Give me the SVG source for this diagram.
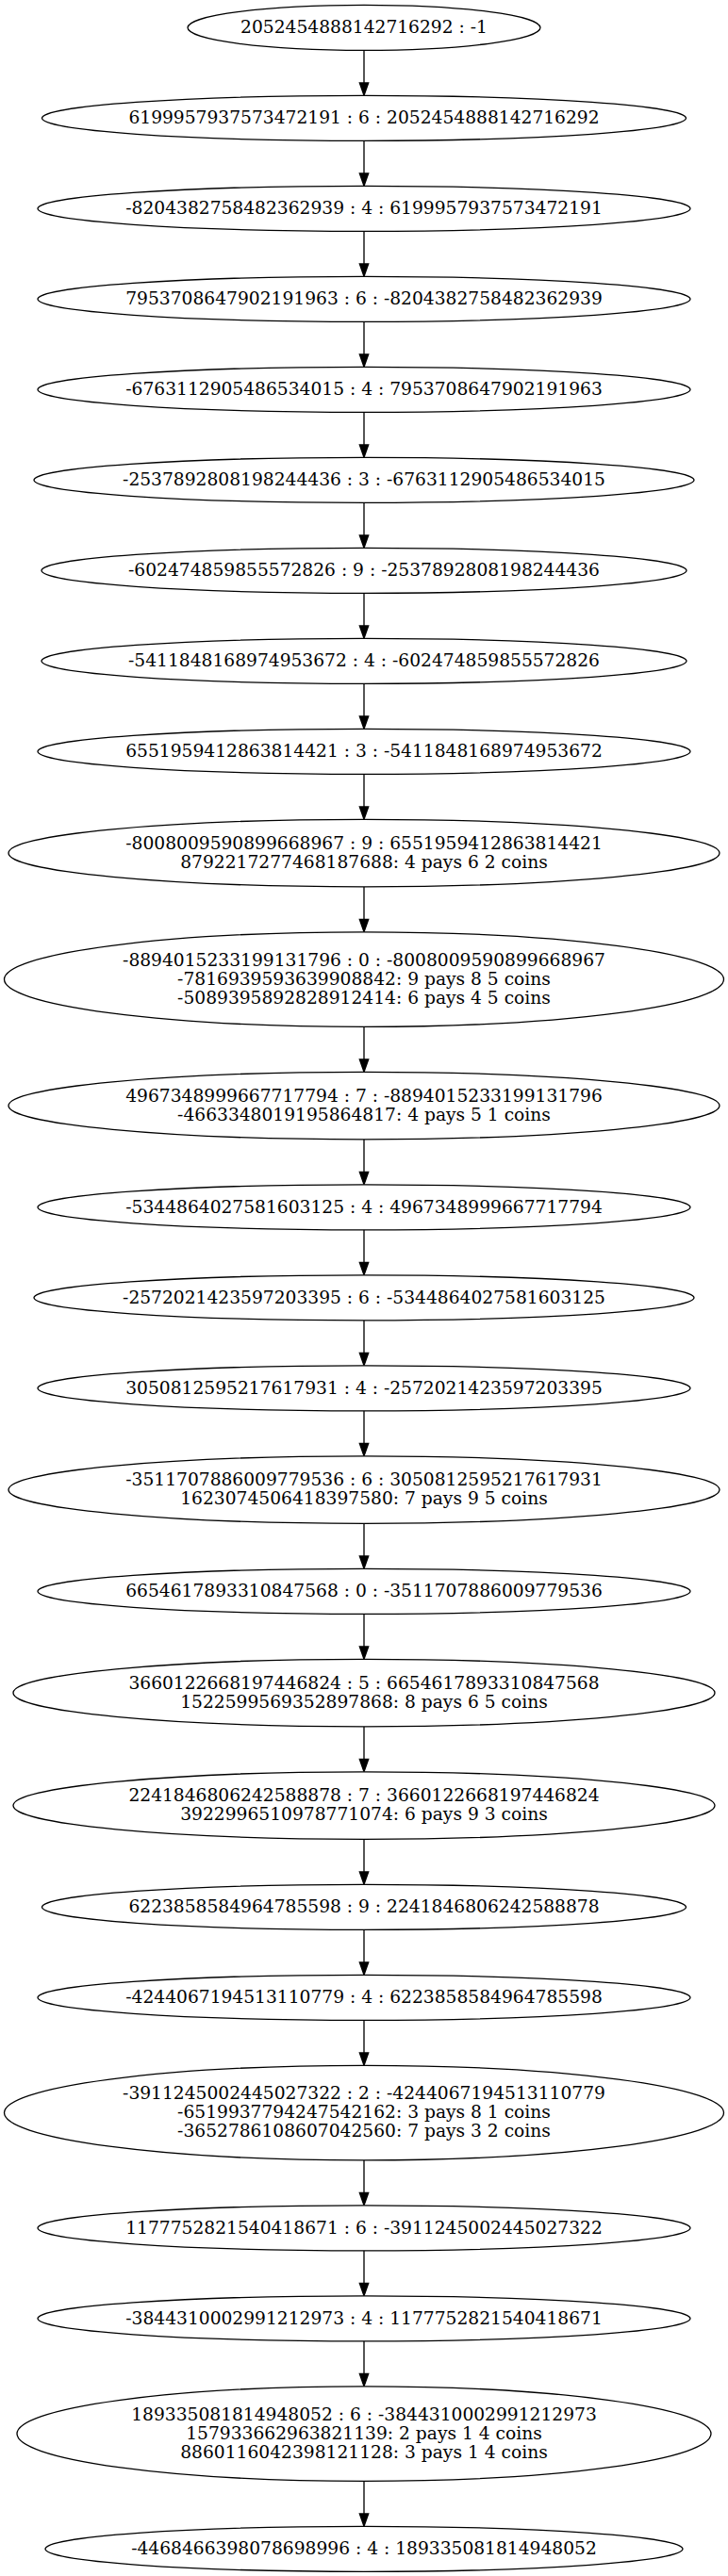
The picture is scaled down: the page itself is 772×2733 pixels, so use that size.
<svg xmlns="http://www.w3.org/2000/svg" width="772" height="2733" viewBox="0 0 772 2733">
<style>
ellipse{fill:#fff;stroke:#000;stroke-width:1.33}
text{font-family:"DejaVu Serif","Liberation Serif",serif;font-size:18.67px;text-anchor:middle;fill:#000}
.e line{stroke:#000;stroke-width:1.33}
</style>
<defs>
<marker id="ah" markerUnits="userSpaceOnUse" markerWidth="16" markerHeight="12" refX="0" refY="4.67" orient="auto" overflow="visible"><path d="M0,0 L13.33,4.67 L0,9.33 z" fill="#000" stroke="#000" stroke-width="1.33"/></marker>
</defs>
<rect x="0" y="0" width="772" height="2733" fill="#fff"/>
<g class="e" id="edges">
<line x1="386" y1="53.33" x2="386" y2="88" marker-end="url(#ah)"/>
<line x1="386" y1="149.33" x2="386" y2="184" marker-end="url(#ah)"/>
<line x1="386" y1="245.33" x2="386" y2="280" marker-end="url(#ah)"/>
<line x1="386" y1="341.33" x2="386" y2="376" marker-end="url(#ah)"/>
<line x1="386" y1="437.33" x2="386" y2="472" marker-end="url(#ah)"/>
<line x1="386" y1="533.33" x2="386" y2="568" marker-end="url(#ah)"/>
<line x1="386" y1="629.33" x2="386" y2="664" marker-end="url(#ah)"/>
<line x1="386" y1="725.33" x2="386" y2="760" marker-end="url(#ah)"/>
<line x1="386" y1="821.33" x2="386" y2="856" marker-end="url(#ah)"/>
<line x1="386" y1="940.83" x2="386" y2="975.5" marker-end="url(#ah)"/>
<line x1="386" y1="1089.33" x2="386" y2="1124" marker-end="url(#ah)"/>
<line x1="386" y1="1208.83" x2="386" y2="1243.5" marker-end="url(#ah)"/>
<line x1="386" y1="1304.83" x2="386" y2="1339.5" marker-end="url(#ah)"/>
<line x1="386" y1="1400.83" x2="386" y2="1435.5" marker-end="url(#ah)"/>
<line x1="386" y1="1496.83" x2="386" y2="1531.5" marker-end="url(#ah)"/>
<line x1="386" y1="1616.33" x2="386" y2="1651" marker-end="url(#ah)"/>
<line x1="386" y1="1712.33" x2="386" y2="1747" marker-end="url(#ah)"/>
<line x1="386" y1="1831.83" x2="386" y2="1866.5" marker-end="url(#ah)"/>
<line x1="386" y1="1951.33" x2="386" y2="1986" marker-end="url(#ah)"/>
<line x1="386" y1="2047.33" x2="386" y2="2082" marker-end="url(#ah)"/>
<line x1="386" y1="2143.33" x2="386" y2="2178" marker-end="url(#ah)"/>
<line x1="386" y1="2291.83" x2="386" y2="2326.5" marker-end="url(#ah)"/>
<line x1="386" y1="2387.83" x2="386" y2="2422.5" marker-end="url(#ah)"/>
<line x1="386" y1="2483.83" x2="386" y2="2518.5" marker-end="url(#ah)"/>
<line x1="386" y1="2632.33" x2="386" y2="2667" marker-end="url(#ah)"/>
</g>
<g id="n1"><ellipse cx="386" cy="29.33" rx="187" ry="24"/><text x="386" y="35">2052454888142716292 : -1</text></g>
<g id="n2"><ellipse cx="386" cy="125.33" rx="341.5" ry="24"/><text x="386" y="131">6199957937573472191 : 6 : 2052454888142716292</text></g>
<g id="n3"><ellipse cx="386" cy="221.33" rx="346" ry="24"/><text x="386" y="227">-8204382758482362939 : 4 : 6199957937573472191</text></g>
<g id="n4"><ellipse cx="386" cy="317.33" rx="346" ry="24"/><text x="386" y="323">7953708647902191963 : 6 : -8204382758482362939</text></g>
<g id="n5"><ellipse cx="386" cy="413.33" rx="346" ry="24"/><text x="386" y="419">-6763112905486534015 : 4 : 7953708647902191963</text></g>
<g id="n6"><ellipse cx="386" cy="509.33" rx="350" ry="24"/><text x="386" y="515">-2537892808198244436 : 3 : -6763112905486534015</text></g>
<g id="n7"><ellipse cx="386" cy="605.33" rx="342" ry="24"/><text x="386" y="611">-602474859855572826 : 9 : -2537892808198244436</text></g>
<g id="n8"><ellipse cx="386" cy="701.33" rx="342" ry="24"/><text x="386" y="707">-5411848168974953672 : 4 : -602474859855572826</text></g>
<g id="n9"><ellipse cx="386" cy="797.33" rx="346" ry="24"/><text x="386" y="803">6551959412863814421 : 3 : -5411848168974953672</text></g>
<g id="n10"><ellipse cx="386" cy="905.08" rx="377" ry="35.75"/><text x="386" y="900.8">-8008009590899668967 : 9 : 6551959412863814421</text><text x="386" y="920.8">8792217277468187688: 4 pays 6 2 coins</text></g>
<g id="n11"><ellipse cx="386" cy="1039.08" rx="381.5" ry="50.25"/><text x="386" y="1024.8">-8894015233199131796 : 0 : -8008009590899668967</text><text x="386" y="1044.8">-7816939593639908842: 9 pays 8 5 coins</text><text x="386" y="1064.8">-5089395892828912414: 6 pays 4 5 coins</text></g>
<g id="n12"><ellipse cx="386" cy="1173.08" rx="377" ry="35.75"/><text x="386" y="1168.8">4967348999667717794 : 7 : -8894015233199131796</text><text x="386" y="1188.8">-4663348019195864817: 4 pays 5 1 coins</text></g>
<g id="n13"><ellipse cx="386" cy="1280.83" rx="346" ry="24"/><text x="386" y="1286.5">-5344864027581603125 : 4 : 4967348999667717794</text></g>
<g id="n14"><ellipse cx="386" cy="1376.83" rx="350" ry="24"/><text x="386" y="1382.5">-2572021423597203395 : 6 : -5344864027581603125</text></g>
<g id="n15"><ellipse cx="386" cy="1472.83" rx="346" ry="24"/><text x="386" y="1478.5">3050812595217617931 : 4 : -2572021423597203395</text></g>
<g id="n16"><ellipse cx="386" cy="1580.58" rx="377" ry="35.75"/><text x="386" y="1576.3">-3511707886009779536 : 6 : 3050812595217617931</text><text x="386" y="1596.3">1623074506418397580: 7 pays 9 5 coins</text></g>
<g id="n17"><ellipse cx="386" cy="1688.33" rx="346" ry="24"/><text x="386" y="1694">6654617893310847568 : 0 : -3511707886009779536</text></g>
<g id="n18"><ellipse cx="386" cy="1796.08" rx="372" ry="35.75"/><text x="386" y="1791.8">3660122668197446824 : 5 : 6654617893310847568</text><text x="386" y="1811.8">1522599569352897868: 8 pays 6 5 coins</text></g>
<g id="n19"><ellipse cx="386" cy="1915.58" rx="372" ry="35.75"/><text x="386" y="1911.3">2241846806242588878 : 7 : 3660122668197446824</text><text x="386" y="1931.3">3922996510978771074: 6 pays 9 3 coins</text></g>
<g id="n20"><ellipse cx="386" cy="2023.33" rx="341.5" ry="24"/><text x="386" y="2029">6223858584964785598 : 9 : 2241846806242588878</text></g>
<g id="n21"><ellipse cx="386" cy="2119.33" rx="346" ry="24"/><text x="386" y="2125">-4244067194513110779 : 4 : 6223858584964785598</text></g>
<g id="n22"><ellipse cx="386" cy="2241.58" rx="381.5" ry="50.25"/><text x="386" y="2227.3">-3911245002445027322 : 2 : -4244067194513110779</text><text x="386" y="2247.3">-6519937794247542162: 3 pays 8 1 coins</text><text x="386" y="2267.3">-3652786108607042560: 7 pays 3 2 coins</text></g>
<g id="n23"><ellipse cx="386" cy="2363.83" rx="346" ry="24"/><text x="386" y="2369.5">1177752821540418671 : 6 : -3911245002445027322</text></g>
<g id="n24"><ellipse cx="386" cy="2459.83" rx="346" ry="24"/><text x="386" y="2465.5">-3844310002991212973 : 4 : 1177752821540418671</text></g>
<g id="n25"><ellipse cx="386" cy="2582.08" rx="368" ry="50.25"/><text x="386" y="2567.8">189335081814948052 : 6 : -3844310002991212973</text><text x="386" y="2587.8">157933662963821139: 2 pays 1 4 coins</text><text x="386" y="2607.8">8860116042398121128: 3 pays 1 4 coins</text></g>
<g id="n26"><ellipse cx="386" cy="2704.33" rx="338" ry="24"/><text x="386" y="2710">-4468466398078698996 : 4 : 189335081814948052</text></g>
</svg>
